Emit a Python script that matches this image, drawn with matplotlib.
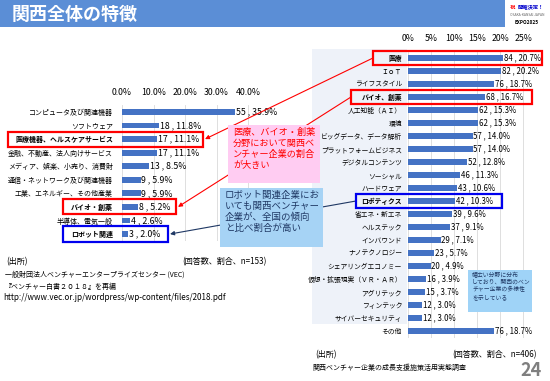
import matplotlib
matplotlib.use("Agg")
import matplotlib.pyplot as plt
import matplotlib.transforms as mtransforms
from matplotlib.patches import Rectangle

plt.rcParams['font.family'] = ['Noto Sans CJK JP', 'DejaVu Sans']

# 左: ベンチャー白書2018 (n=153)
cats_left = ["コンピュータ及び関連機器", "ソフトウェア", "医療機器、ヘルスケアサービス",
             "金融、不動産、法人向けサービス", "メディア、娯楽、小売り、消費財",
             "通信・ネットワーク及び関連機器", "工業、エネルギー、その他産業",
             "バイオ・創薬", "半導体、電気一般", "ロボット関連"]
n_left = [55, 18, 17, 17, 13, 9, 9, 8, 4, 3]
pct_left = [35.9, 11.8, 11.1, 11.1, 8.5, 5.9, 5.9, 5.2, 2.6, 2.0]
ticks_left = [0, 10, 20, 30, 40]

# 右: 関西ベンチャー企業 (n=406)
cats_right = ["医療", "ＩｏＴ", "ライフスタイル", "バイオ、創薬", "人工知能（ＡＩ）", "環境",
              "ビッグデータ、データ解析", "プラットフォームビジネス", "デジタルコンテンツ",
              "ソーシャル", "ハードウェア", "ロボティクス", "省エネ・新エネ", "ヘルステック",
              "インバウンド", "ナノテクノロジー", "シェアリングエコノミー",
              "仮想・拡張現実（ＶＲ・ＡＲ）", "アグリテック", "フィンテック",
              "サイバーセキュリティ", "その他"]
n_right = [84, 82, 76, 68, 62, 62, 57, 57, 52, 46, 43, 42, 39, 37, 29, 23, 20, 16, 15, 12, 12, 76]
pct_right = [20.7, 20.2, 18.7, 16.7, 15.3, 15.3, 14.0, 14.0, 12.8, 11.3, 10.6, 10.3,
             9.6, 9.1, 7.1, 5.7, 4.9, 3.9, 3.7, 3.0, 3.0, 18.7]
ticks_right = [0, 5, 10, 15, 20, 25]

bold_left = ["医療機器、ヘルスケアサービス", "バイオ・創薬", "ロボット関連"]
bold_right = ["医療", "バイオ、創薬", "ロボティクス"]

W, H = 550, 381
BAR = '#4472c4'
GRID = '#d9d9d9'
NAVY = '#1f3864'


def fbox(x0, y0, x1, y1):
    # ピクセル座標 -> figure座標
    return [x0 / W, 1 - y1 / H, (x1 - x0) / W, (y1 - y0) / H]


fig = plt.figure(figsize=(5.5, 3.81), dpi=100)

axL = fig.add_axes(fbox(122, 105.2, 267, 240.8))
axR = fig.add_axes(fbox(408, 51.5, 537, 337.5))
ov = fig.add_axes([0, 0, 1, 1], zorder=5)
ov.set_xlim(0, W)
ov.set_ylim(H, 0)
ov.axis('off')
ov.patch.set_alpha(0)


def draw_bars(ax, cats, counts, pcts, ticks, xmax, fmt, bolds, lab_size, val_size, pad):
    y = list(range(len(cats)))
    ax.barh(y, pcts, height=0.42, color=BAR, zorder=2)
    for yi, c, p in zip(y, counts, pcts):
        ax.text(p + xmax * 0.006, yi, f"{c} , {p:.1f}%", va='center', ha='left',
                fontsize=val_size, zorder=3)
    ax.set_ylim(len(cats) - 0.5, -0.5)
    ax.set_xlim(0, xmax)
    ax.set_yticks(y)
    ax.set_yticklabels(cats, fontsize=lab_size)
    for t in ax.get_yticklabels():
        if t.get_text() in bolds:
            t.set_fontweight('bold')
    ax.set_xticks(ticks)
    ax.set_xticklabels([fmt.format(t) for t in ticks], fontsize=6.3)
    ax.xaxis.tick_top()
    ax.tick_params(axis='x', length=0, pad=6)
    ax.tick_params(axis='y', length=0, pad=pad)
    ax.grid(axis='x', color=GRID, lw=0.6, zorder=0)
    ax.set_axisbelow(True)
    for s in ax.spines.values():
        s.set_visible(False)
    ax.patch.set_alpha(0)


draw_bars(axL, cats_left, n_left, pct_left, ticks_left, 46, "{:.1f}%", bold_left, 5.0, 6.3, 6.5)
draw_bars(axR, cats_right, n_right, pct_right, ticks_right, 28, "{:d}%", bold_right, 4.9, 5.7, 4.3)

bL = mtransforms.blended_transform_factory(ov.transData, axL.transData)
bR = mtransforms.blended_transform_factory(ov.transData, axR.transData)

# 右側ラベル領域の背景
axR.add_patch(Rectangle((312, -0.7), 95, 21.2, transform=bR, facecolor='#eef2f9',
                        edgecolor='none', clip_on=False, zorder=0))

# 強調枠
for x0, x1, row, col in [(8, 203, 2, 'red'), (63, 176, 7, 'red'), (63, 168, 9, '#0000ee')]:
    ov.add_patch(Rectangle((x0, row - 0.56), x1 - x0, 1.12, transform=bL, fill=False,
                           edgecolor=col, lw=1.6, zorder=4, clip_on=False))
for x0, x1, row, col in [(373, 542, 0, 'red'), (351, 532, 3, 'red'), (356, 502, 11, '#0000ee')]:
    ov.add_patch(Rectangle((x0, row - 0.56), x1 - x0, 1.12, transform=bR, fill=False,
                           edgecolor=col, lw=1.6, zorder=4, clip_on=False))

# 矢印
for (xr, rr), (xl, rl), col in [((373, 0), (205, 2), 'red'),
                                ((351, 3), (178, 7), 'red'),
                                ((356, 11), (170, 9), NAVY)]:
    ov.annotate("", xy=(xl, rl), xycoords=bL, xytext=(xr, rr), textcoords=bR,
                arrowprops=dict(arrowstyle='-|>', color=col, lw=0.8, mutation_scale=6,
                                shrinkA=0, shrinkB=0), zorder=1)

# コメント枠
ov.add_patch(Rectangle((228, 125), 92, 58, facecolor='#ffccf2', edgecolor='none', zorder=3))
ov.text(233, 128, "医療、バイオ・創薬\n分野において関西ベ\nンチャー企業の割合\nが大きい",
        color='red', fontsize=6.6, va='top', ha='left', linespacing=1.25, zorder=4)
ov.add_patch(Rectangle((220, 188), 103, 59, facecolor='#a6d3f5', edgecolor='none', zorder=3))
ov.text(225, 191, "ロボット関連企業にお\nいても関西ベンチャー\n企業が、全国の傾向\nと比べ割合が高い",
        color=NAVY, fontsize=6.8, va='top', ha='left', linespacing=1.25, zorder=4)
ov.add_patch(Rectangle((468, 270), 64, 42, facecolor='#9fd3f7', edgecolor='none', zorder=3))
ov.text(472, 272, "幅広い分野に分布\nしており、関西のベン\nチャー企業の多様性\nを示している",
        color=NAVY, fontsize=4.2, va='top', ha='left', linespacing=1.35, zorder=4)

# ヘッダー
ov.add_patch(Rectangle((0, 0), 505, 27, facecolor='#5b8ed6', edgecolor='none', zorder=2))
ov.text(12, 14, "関西全体の特徴", color='white', fontsize=13, fontweight='bold',
        va='center', ha='left', zorder=3)
ov.text(510, 7, "祝", color='red', fontsize=3.8, fontweight='bold', va='center', ha='left')
ov.text(518, 7, "開催決定！", color='#0000cc', fontsize=3.8, fontweight='bold', va='center', ha='left')
ov.text(527, 15, "OSAKA-KANSAI JAPAN", color='#666666', fontsize=2.4, va='center', ha='center')
ov.text(527, 23, "EXPO2025", color='black', fontsize=3.4, fontweight='bold', va='center', ha='center')

# 出所
ov.text(6, 262, "(出所)", fontsize=5.8, va='center', ha='left')
ov.text(267, 262, "(回答数、割合、n=153)", fontsize=5.8, va='center', ha='right')
ov.text(5, 275, "一般財団法人ベンチャーエンタープライズセンター (VEC)", fontsize=5.0, va='center', ha='left')
ov.text(5, 287, "『ベンチャー白書２０１８』を再編", fontsize=5.0, va='center', ha='left')
ov.text(3, 298, "http://www.vec.or.jp/wordpress/wp-content/files/2018.pdf", fontsize=5.8,
        va='center', ha='left')
ov.text(315, 355, "(出所)", fontsize=5.8, va='center', ha='left')
ov.text(537, 355, "(回答数、割合、n=406)", fontsize=5.8, va='center', ha='right')
ov.text(312, 368, "関西ベンチャー企業の成長支援施策活用実態調査", fontsize=5.0, va='center', ha='left')
ov.text(531, 371, "24", color='#7f7f7f', fontsize=13, fontweight='bold', va='center', ha='center')

fig.savefig("out.png", dpi=100)
